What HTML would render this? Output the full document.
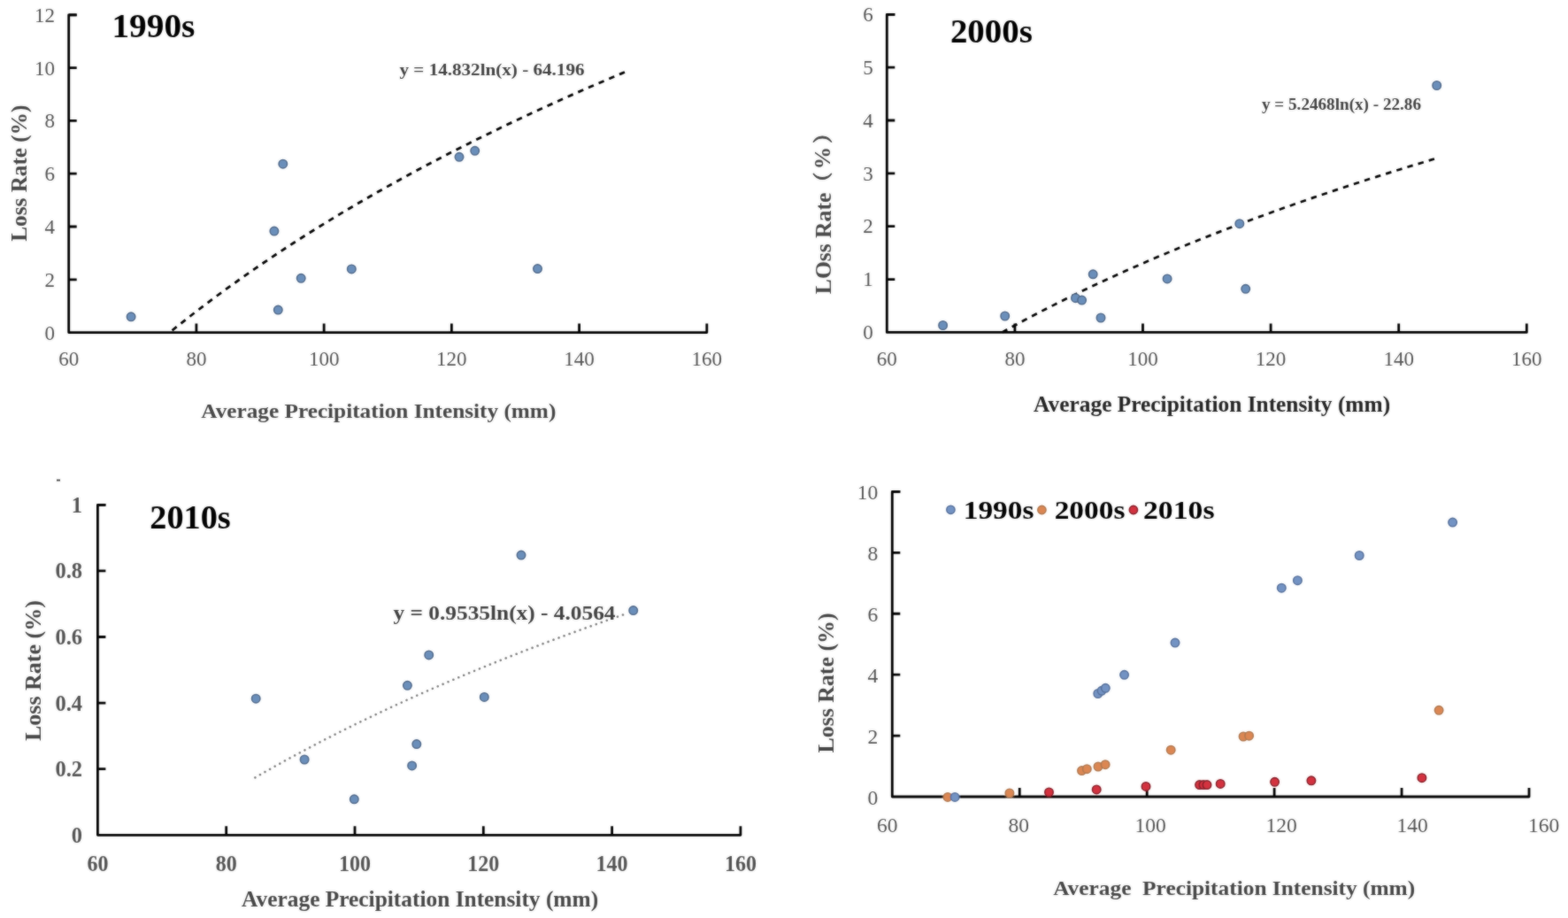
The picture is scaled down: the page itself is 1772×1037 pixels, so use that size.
<!DOCTYPE html><html><head><meta charset="utf-8"><title>Loss rate vs precipitation intensity</title><style>html,body{margin:0;padding:0;background:#fff;}svg{display:block;}text{font-family:"Liberation Serif", "Noto Serif CJK SC", serif;}</style></head><body>
<svg width="1772" height="1037" viewBox="0 0 1772 1037">
<defs><filter id="soft" filterUnits="userSpaceOnUse" x="0" y="0" width="1772" height="1037"><feGaussianBlur in="SourceGraphic" stdDeviation="1" result="bl"/><feComposite in="SourceGraphic" in2="bl" operator="arithmetic" k1="0" k2="0.5" k3="0.5" k4="0"/></filter></defs>
<rect width="1772" height="1037" fill="#fff"/>
<g filter="url(#soft)">
<path d="M86.7,16.8H77.7V375.6H798.8V365.6" fill="none" stroke="#000" stroke-width="2.8" stroke-linejoin="round"/>
<path d="M221.92,375.6V365.6M366.14,375.6V365.6M510.36,375.6V365.6M654.58,375.6V365.6M77.7,315.8H86.7M77.7,256.0H86.7M77.7,196.2H86.7M77.7,136.4H86.7M77.7,76.6H86.7M77.7,16.8H86.7" fill="none" stroke="#000" stroke-width="2.8"/>
<text x="62" y="383.6" font-size="23" fill="#525252" text-anchor="end" >0</text>
<text x="62" y="323.8" font-size="23" fill="#525252" text-anchor="end" >2</text>
<text x="62" y="264.0" font-size="23" fill="#525252" text-anchor="end" >4</text>
<text x="62" y="204.2" font-size="23" fill="#525252" text-anchor="end" >6</text>
<text x="62" y="144.4" font-size="23" fill="#525252" text-anchor="end" >8</text>
<text x="62" y="84.6" font-size="23" fill="#525252" text-anchor="end" >10</text>
<text x="62" y="24.8" font-size="23" fill="#525252" text-anchor="end" >12</text>
<text x="77.7" y="412.6" font-size="23" fill="#525252" text-anchor="middle" >60</text>
<text x="221.92" y="412.6" font-size="23" fill="#525252" text-anchor="middle" >80</text>
<text x="366.14" y="412.6" font-size="23" fill="#525252" text-anchor="middle" >100</text>
<text x="510.36" y="412.6" font-size="23" fill="#525252" text-anchor="middle" >120</text>
<text x="654.58" y="412.6" font-size="23" fill="#525252" text-anchor="middle" >140</text>
<text x="798.8" y="412.6" font-size="23" fill="#525252" text-anchor="middle" >160</text>
<text x="173.4" y="42.3" font-size="38.5" fill="#000" text-anchor="middle" font-weight="bold" textLength="94" lengthAdjust="spacingAndGlyphs" >1990s</text>
<text x="556" y="85" font-size="19.5" fill="#404040" text-anchor="middle" font-weight="bold" textLength="209" lengthAdjust="spacingAndGlyphs" >y = 14.832ln(x) - 64.196</text>
<text transform="translate(30.3,195.7) rotate(-90)" font-size="25" fill="#454545" text-anchor="middle" font-weight="bold" textLength="154" lengthAdjust="spacingAndGlyphs" >Loss Rate (%)</text>
<text x="427.8" y="472" font-size="23" fill="#454545" text-anchor="middle" font-weight="bold" textLength="401" lengthAdjust="spacingAndGlyphs" >Average Precipitation Intensity (mm)</text>
<path d="M194.58,373.27 L203.17,366.39 L211.76,359.61 L220.36,352.94 L228.95,346.36 L237.54,339.89 L246.13,333.50 L254.72,327.21 L263.32,321.00 L271.91,314.88 L280.50,308.84 L289.09,302.89 L297.68,297.01 L306.28,291.21 L314.87,285.48 L323.46,279.83 L332.05,274.25 L340.64,268.74 L349.24,263.29 L357.83,257.92 L366.42,252.60 L375.01,247.35 L383.61,242.16 L392.20,237.03 L400.79,231.96 L409.38,226.95 L417.97,221.99 L426.57,217.09 L435.16,212.24 L443.75,207.44 L452.34,202.70 L460.93,198.00 L469.53,193.36 L478.12,188.76 L486.71,184.21 L495.30,179.70 L503.89,175.24 L512.49,170.83 L521.08,166.46 L529.67,162.13 L538.26,157.84 L546.85,153.60 L555.45,149.39 L564.04,145.23 L572.63,141.10 L581.22,137.01 L589.82,132.96 L598.41,128.95 L607.00,124.97 L615.59,121.02 L624.18,117.11 L632.78,113.24 L641.37,109.40 L649.96,105.59 L658.55,101.82 L667.14,98.07 L675.74,94.36 L684.33,90.68 L692.92,87.03 L701.51,83.40 L710.10,79.81" fill="none" stroke="#000" stroke-width="2.8" stroke-dasharray="6.5 6.2" stroke-linecap="butt"/>
<circle cx="148.1" cy="357.8" r="4.7" fill="#6b8fbb" stroke="#50698a" stroke-width="1.6"/>
<circle cx="319.8" cy="185.2" r="4.7" fill="#6b8fbb" stroke="#50698a" stroke-width="1.6"/>
<circle cx="309.9" cy="261.1" r="4.7" fill="#6b8fbb" stroke="#50698a" stroke-width="1.6"/>
<circle cx="340.2" cy="314.3" r="4.7" fill="#6b8fbb" stroke="#50698a" stroke-width="1.6"/>
<circle cx="397.3" cy="303.9" r="4.7" fill="#6b8fbb" stroke="#50698a" stroke-width="1.6"/>
<circle cx="314.3" cy="350.1" r="4.7" fill="#6b8fbb" stroke="#50698a" stroke-width="1.6"/>
<circle cx="519.0" cy="177.3" r="4.7" fill="#6b8fbb" stroke="#50698a" stroke-width="1.6"/>
<circle cx="536.7" cy="170.3" r="4.7" fill="#6b8fbb" stroke="#50698a" stroke-width="1.6"/>
<circle cx="607.5" cy="303.6" r="4.7" fill="#6b8fbb" stroke="#50698a" stroke-width="1.6"/>
<path d="M1011.3,16.3H1002.3V375.4H1725.3V365.4" fill="none" stroke="#000" stroke-width="2.8" stroke-linejoin="round"/>
<path d="M1146.9,375.4V365.4M1291.5,375.4V365.4M1436.1,375.4V365.4M1580.7,375.4V365.4M1002.3,315.55H1011.3M1002.3,255.7H1011.3M1002.3,195.85H1011.3M1002.3,136H1011.3M1002.3,76.15H1011.3M1002.3,16.3H1011.3" fill="none" stroke="#000" stroke-width="2.8"/>
<text x="986.8" y="383.1" font-size="23" fill="#525252" text-anchor="end" >0</text>
<text x="986.8" y="323.25" font-size="23" fill="#525252" text-anchor="end" >1</text>
<text x="986.8" y="263.4" font-size="23" fill="#525252" text-anchor="end" >2</text>
<text x="986.8" y="203.55" font-size="23" fill="#525252" text-anchor="end" >3</text>
<text x="986.8" y="143.7" font-size="23" fill="#525252" text-anchor="end" >4</text>
<text x="986.8" y="83.85" font-size="23" fill="#525252" text-anchor="end" >5</text>
<text x="986.8" y="24" font-size="23" fill="#525252" text-anchor="end" >6</text>
<text x="1002.3" y="412.8" font-size="23" fill="#525252" text-anchor="middle" >60</text>
<text x="1146.9" y="412.8" font-size="23" fill="#525252" text-anchor="middle" >80</text>
<text x="1291.5" y="412.8" font-size="23" fill="#525252" text-anchor="middle" >100</text>
<text x="1436.1" y="412.8" font-size="23" fill="#525252" text-anchor="middle" >120</text>
<text x="1580.7" y="412.8" font-size="23" fill="#525252" text-anchor="middle" >140</text>
<text x="1725.3" y="412.8" font-size="23" fill="#525252" text-anchor="middle" >160</text>
<text x="1120.4" y="47.6" font-size="38.5" fill="#000" text-anchor="middle" font-weight="bold" textLength="93" lengthAdjust="spacingAndGlyphs" >2000s</text>
<text x="1516" y="123.5" font-size="18.3" fill="#404040" text-anchor="middle" font-weight="bold" textLength="180" lengthAdjust="spacingAndGlyphs" >y = 5.2468ln(x) - 22.86</text>
<text transform="translate(939,332.2) rotate(-90)" font-size="25" fill="#474747" text-anchor="start" font-weight="bold" textLength="114.5" lengthAdjust="spacingAndGlyphs" >LOss Rate</text>
<text transform="translate(936.5,205.8) rotate(-90)" font-size="22" fill="#474747" text-anchor="middle" font-weight="bold" stroke="#474747" stroke-width="0.9">（</text>
<text transform="translate(938,178.6) rotate(-90)" font-size="25.5" fill="#474747" text-anchor="middle" font-weight="bold" >%</text>
<text transform="translate(936.5,150.8) rotate(-90)" font-size="22" fill="#474747" text-anchor="middle" font-weight="bold" stroke="#474747" stroke-width="0.9">）</text>
<text x="1369.6" y="465.4" font-size="24.5" fill="#222" text-anchor="middle" font-weight="bold" textLength="403" lengthAdjust="spacingAndGlyphs" >Average Precipitation Intensity (mm)</text>
<path d="M1132.57,375.40 L1140.74,370.89 L1148.91,366.44 L1157.07,362.05 L1165.24,357.72 L1173.41,353.45 L1181.58,349.24 L1189.75,345.08 L1197.91,340.98 L1206.08,336.93 L1214.25,332.94 L1222.42,328.99 L1230.58,325.09 L1238.75,321.24 L1246.92,317.44 L1255.09,313.68 L1263.25,309.96 L1271.42,306.29 L1279.59,302.67 L1287.76,299.08 L1295.93,295.53 L1304.09,292.03 L1312.26,288.56 L1320.43,285.13 L1328.60,281.74 L1336.76,278.38 L1344.93,275.06 L1353.10,271.78 L1361.27,268.52 L1369.43,265.30 L1377.60,262.12 L1385.77,258.96 L1393.94,255.84 L1402.11,252.75 L1410.27,249.69 L1418.44,246.66 L1426.61,243.65 L1434.78,240.68 L1442.94,237.73 L1451.11,234.81 L1459.28,231.92 L1467.45,229.05 L1475.62,226.21 L1483.78,223.40 L1491.95,220.61 L1500.12,217.84 L1508.29,215.10 L1516.45,212.38 L1524.62,209.69 L1532.79,207.02 L1540.96,204.37 L1549.12,201.74 L1557.29,199.14 L1565.46,196.56 L1573.63,193.99 L1581.80,191.45 L1589.96,188.93 L1598.13,186.43 L1606.30,183.95 L1614.47,181.49 L1622.63,179.04" fill="none" stroke="#000" stroke-width="2.7" stroke-dasharray="6.5 6.2" stroke-linecap="butt"/>
<circle cx="1065.6" cy="367.5" r="4.7" fill="#6b8fbb" stroke="#50698a" stroke-width="1.6"/>
<circle cx="1135.7" cy="357.0" r="4.7" fill="#6b8fbb" stroke="#50698a" stroke-width="1.6"/>
<circle cx="1215.5" cy="336.7" r="4.7" fill="#6b8fbb" stroke="#50698a" stroke-width="1.6"/>
<circle cx="1222.6" cy="339.1" r="4.7" fill="#6b8fbb" stroke="#50698a" stroke-width="1.6"/>
<circle cx="1235.2" cy="309.8" r="4.7" fill="#6b8fbb" stroke="#50698a" stroke-width="1.6"/>
<circle cx="1244.0" cy="359.0" r="4.7" fill="#6b8fbb" stroke="#50698a" stroke-width="1.6"/>
<circle cx="1319.1" cy="314.9" r="4.7" fill="#6b8fbb" stroke="#50698a" stroke-width="1.6"/>
<circle cx="1400.8" cy="252.7" r="4.7" fill="#6b8fbb" stroke="#50698a" stroke-width="1.6"/>
<circle cx="1407.7" cy="326.3" r="4.7" fill="#6b8fbb" stroke="#50698a" stroke-width="1.6"/>
<circle cx="1623.7" cy="96.5" r="4.7" fill="#6b8fbb" stroke="#50698a" stroke-width="1.6"/>
<path d="M119.4,570.3H110.4V943.3H836.9V933.3" fill="none" stroke="#000" stroke-width="2.8" stroke-linejoin="round"/>
<path d="M255.7,943.3V933.3M401.0,943.3V933.3M546.3,943.3V933.3M691.6,943.3V933.3M110.4,868.7H119.4M110.4,794.1H119.4M110.4,719.5H119.4M110.4,644.9H119.4M110.4,570.3H119.4" fill="none" stroke="#000" stroke-width="2.8"/>
<text x="93" y="951.8" font-size="24.5" fill="#525252" text-anchor="end" font-weight="bold" >0</text>
<text x="93" y="877.2" font-size="24.5" fill="#525252" text-anchor="end" font-weight="bold" >0.2</text>
<text x="93" y="802.6" font-size="24.5" fill="#525252" text-anchor="end" font-weight="bold" >0.4</text>
<text x="93" y="728.0" font-size="24.5" fill="#525252" text-anchor="end" font-weight="bold" >0.6</text>
<text x="93" y="653.4" font-size="24.5" fill="#525252" text-anchor="end" font-weight="bold" >0.8</text>
<text x="93" y="578.8" font-size="24.5" fill="#525252" text-anchor="end" font-weight="bold" >1</text>
<text x="110.4" y="984" font-size="25.5" fill="#525252" text-anchor="middle" font-weight="bold" textLength="24" lengthAdjust="spacingAndGlyphs" >60</text>
<text x="255.7" y="984" font-size="25.5" fill="#525252" text-anchor="middle" font-weight="bold" textLength="24" lengthAdjust="spacingAndGlyphs" >80</text>
<text x="401.0" y="984" font-size="25.5" fill="#525252" text-anchor="middle" font-weight="bold" textLength="36" lengthAdjust="spacingAndGlyphs" >100</text>
<text x="546.3" y="984" font-size="25.5" fill="#525252" text-anchor="middle" font-weight="bold" textLength="36" lengthAdjust="spacingAndGlyphs" >120</text>
<text x="691.6" y="984" font-size="25.5" fill="#525252" text-anchor="middle" font-weight="bold" textLength="36" lengthAdjust="spacingAndGlyphs" >140</text>
<text x="836.9" y="984" font-size="25.5" fill="#525252" text-anchor="middle" font-weight="bold" textLength="36" lengthAdjust="spacingAndGlyphs" >160</text>
<text x="215" y="597" font-size="37" fill="#000" text-anchor="middle" font-weight="bold" textLength="91.5" lengthAdjust="spacingAndGlyphs" >2010s</text>
<path d="M288.39,878.38 L295.37,874.36 L302.34,870.39 L309.32,866.46 L316.29,862.58 L323.26,858.73 L330.24,854.93 L337.21,851.17 L344.19,847.44 L351.16,843.76 L358.14,840.11 L365.11,836.50 L372.09,832.93 L379.06,829.39 L386.03,825.89 L393.01,822.42 L399.98,818.98 L406.96,815.58 L413.93,812.21 L420.91,808.87 L427.88,805.56 L434.85,802.28 L441.83,799.04 L448.80,795.82 L455.78,792.63 L462.75,789.47 L469.73,786.34 L476.70,783.23 L483.68,780.15 L490.65,777.10 L497.62,774.07 L504.60,771.07 L511.57,768.10 L518.55,765.15 L525.52,762.22 L532.50,759.32 L539.47,756.44 L546.45,753.58 L553.42,750.75 L560.39,747.94 L567.37,745.15 L574.34,742.38 L581.32,739.63 L588.29,736.91 L595.27,734.20 L602.24,731.52 L609.21,728.86 L616.19,726.21 L623.16,723.59 L630.14,720.98 L637.11,718.40 L644.09,715.83 L651.06,713.28 L658.04,710.75 L665.01,708.24 L671.98,705.74 L678.96,703.26 L685.93,700.80 L692.91,698.36 L699.88,695.93 L706.86,693.52" fill="none" stroke="#7c7c7c" stroke-width="2.6" stroke-dasharray="0.01 6.4" stroke-linecap="round"/>
<text x="570" y="700.4" font-size="23.5" fill="#404040" text-anchor="middle" font-weight="bold" textLength="251" lengthAdjust="spacingAndGlyphs" >y = 0.9535ln(x) - 4.0564</text>
<text transform="translate(45.5,757.6) rotate(-90)" font-size="25" fill="#454545" text-anchor="middle" font-weight="bold" textLength="159" lengthAdjust="spacingAndGlyphs" >Loss Rate (%)</text>
<text x="474.6" y="1024.3" font-size="25.5" fill="#454545" text-anchor="middle" font-weight="bold" textLength="403" lengthAdjust="spacingAndGlyphs" >Average Precipitation Intensity (mm)</text>
<circle cx="289.2" cy="789.2" r="4.7" fill="#6b8fbb" stroke="#50698a" stroke-width="1.6"/>
<circle cx="344.1" cy="858.0" r="4.7" fill="#6b8fbb" stroke="#50698a" stroke-width="1.6"/>
<circle cx="400.3" cy="902.8" r="4.7" fill="#6b8fbb" stroke="#50698a" stroke-width="1.6"/>
<circle cx="460.4" cy="774.3" r="4.7" fill="#6b8fbb" stroke="#50698a" stroke-width="1.6"/>
<circle cx="484.7" cy="739.9" r="4.7" fill="#6b8fbb" stroke="#50698a" stroke-width="1.6"/>
<circle cx="470.8" cy="840.6" r="4.7" fill="#6b8fbb" stroke="#50698a" stroke-width="1.6"/>
<circle cx="465.6" cy="864.9" r="4.7" fill="#6b8fbb" stroke="#50698a" stroke-width="1.6"/>
<circle cx="547.3" cy="787.4" r="4.7" fill="#6b8fbb" stroke="#50698a" stroke-width="1.6"/>
<circle cx="589.0" cy="627.1" r="4.7" fill="#6b8fbb" stroke="#50698a" stroke-width="1.6"/>
<circle cx="715.7" cy="689.6" r="4.7" fill="#6b8fbb" stroke="#50698a" stroke-width="1.6"/>
<path d="M64,542.5h4" stroke="#444" stroke-width="2"/>
<path d="M1017.3,555.4H1008.3V900H1728.0V890" fill="none" stroke="#000" stroke-width="2.8" stroke-linejoin="round"/>
<path d="M1152.24,900V890M1296.18,900V890M1440.12,900V890M1584.06,900V890M1008.3,831.08H1017.3M1008.3,762.16H1017.3M1008.3,693.24H1017.3M1008.3,624.32H1017.3M1008.3,555.4H1017.3" fill="none" stroke="#000" stroke-width="2.8"/>
<text x="992.3" y="908.6" font-size="23.5" fill="#525252" text-anchor="end" >0</text>
<text x="992.3" y="839.68" font-size="23.5" fill="#525252" text-anchor="end" >2</text>
<text x="992.3" y="770.76" font-size="23.5" fill="#525252" text-anchor="end" >4</text>
<text x="992.3" y="701.84" font-size="23.5" fill="#525252" text-anchor="end" >6</text>
<text x="992.3" y="632.92" font-size="23.5" fill="#525252" text-anchor="end" >8</text>
<text x="992.3" y="564.0" font-size="23.5" fill="#525252" text-anchor="end" >10</text>
<text x="1002.7" y="939.8" font-size="23.5" fill="#525252" text-anchor="middle" >60</text>
<text x="1151.3" y="939.8" font-size="23.5" fill="#525252" text-anchor="middle" >80</text>
<text x="1300" y="939.8" font-size="23.5" fill="#525252" text-anchor="middle" >100</text>
<text x="1448" y="939.8" font-size="23.5" fill="#525252" text-anchor="middle" >120</text>
<text x="1596" y="939.8" font-size="23.5" fill="#525252" text-anchor="middle" >140</text>
<text x="1744.6" y="939.8" font-size="23.5" fill="#525252" text-anchor="middle" >160</text>
<text transform="translate(942.3,771.5) rotate(-90)" font-size="25" fill="#454545" text-anchor="middle" font-weight="bold" textLength="158" lengthAdjust="spacingAndGlyphs" >Loss Rate (%)</text>
<text x="1394.7" y="1011" font-size="23.5" fill="#454545" text-anchor="middle" font-weight="bold" textLength="409" lengthAdjust="spacingAndGlyphs" xml:space="preserve">Average  Precipitation Intensity (mm)</text>
<circle cx="1071" cy="900.4" r="4.7" fill="#dc8752" stroke="#b07850" stroke-width="1.6"/>
<circle cx="1140.9" cy="896" r="4.7" fill="#dc8752" stroke="#b07850" stroke-width="1.6"/>
<circle cx="1222.5" cy="870.6" r="4.7" fill="#dc8752" stroke="#b07850" stroke-width="1.6"/>
<circle cx="1228.3" cy="868.7" r="4.7" fill="#dc8752" stroke="#b07850" stroke-width="1.6"/>
<circle cx="1241" cy="866" r="4.7" fill="#dc8752" stroke="#b07850" stroke-width="1.6"/>
<circle cx="1249.1" cy="863.7" r="4.7" fill="#dc8752" stroke="#b07850" stroke-width="1.6"/>
<circle cx="1323.2" cy="847.2" r="4.7" fill="#dc8752" stroke="#b07850" stroke-width="1.6"/>
<circle cx="1405.1" cy="832" r="4.7" fill="#dc8752" stroke="#b07850" stroke-width="1.6"/>
<circle cx="1411.6" cy="831.2" r="4.7" fill="#dc8752" stroke="#b07850" stroke-width="1.6"/>
<circle cx="1626.1" cy="802.3" r="4.7" fill="#dc8752" stroke="#b07850" stroke-width="1.6"/>
<circle cx="1079.1" cy="900.4" r="4.7" fill="#7393c4" stroke="#56709b" stroke-width="1.6"/>
<circle cx="1240.8" cy="783.5" r="4.7" fill="#7393c4" stroke="#56709b" stroke-width="1.6"/>
<circle cx="1245" cy="780.3" r="4.7" fill="#7393c4" stroke="#56709b" stroke-width="1.6"/>
<circle cx="1249.3" cy="777.3" r="4.7" fill="#7393c4" stroke="#56709b" stroke-width="1.6"/>
<circle cx="1270.6" cy="762.3" r="4.7" fill="#7393c4" stroke="#56709b" stroke-width="1.6"/>
<circle cx="1328" cy="726.1" r="4.7" fill="#7393c4" stroke="#56709b" stroke-width="1.6"/>
<circle cx="1448.3" cy="664.2" r="4.7" fill="#7393c4" stroke="#56709b" stroke-width="1.6"/>
<circle cx="1466.4" cy="655.7" r="4.7" fill="#7393c4" stroke="#56709b" stroke-width="1.6"/>
<circle cx="1536.2" cy="627.5" r="4.7" fill="#7393c4" stroke="#56709b" stroke-width="1.6"/>
<circle cx="1641.6" cy="590.1" r="4.7" fill="#7393c4" stroke="#56709b" stroke-width="1.6"/>
<circle cx="1185.5" cy="894.9" r="4.7" fill="#d4323f" stroke="#861f29" stroke-width="1.6"/>
<circle cx="1239.2" cy="891.9" r="4.7" fill="#d4323f" stroke="#861f29" stroke-width="1.6"/>
<circle cx="1295" cy="888.4" r="4.7" fill="#d4323f" stroke="#861f29" stroke-width="1.6"/>
<circle cx="1355.6" cy="886.6" r="4.7" fill="#d4323f" stroke="#861f29" stroke-width="1.6"/>
<circle cx="1360" cy="886.6" r="4.7" fill="#d4323f" stroke="#861f29" stroke-width="1.6"/>
<circle cx="1364" cy="886.6" r="4.7" fill="#d4323f" stroke="#861f29" stroke-width="1.6"/>
<circle cx="1379.2" cy="885.4" r="4.7" fill="#d4323f" stroke="#861f29" stroke-width="1.6"/>
<circle cx="1440.6" cy="883.3" r="4.7" fill="#d4323f" stroke="#861f29" stroke-width="1.6"/>
<circle cx="1481.9" cy="881.8" r="4.7" fill="#d4323f" stroke="#861f29" stroke-width="1.6"/>
<circle cx="1606.9" cy="878.7" r="4.7" fill="#d4323f" stroke="#861f29" stroke-width="1.6"/>
<circle cx="1074.4" cy="575.8" r="4.6" fill="#7393c4" stroke="#56709b" stroke-width="1.6"/>
<circle cx="1177.4" cy="576" r="4.6" fill="#dc8752" stroke="#b07850" stroke-width="1.6"/>
<circle cx="1280.9" cy="576" r="4.6" fill="#d4323f" stroke="#861f29" stroke-width="1.6"/>
<text x="1128.6" y="585.8" font-size="30" fill="#000" text-anchor="middle" font-weight="bold" textLength="79.6" lengthAdjust="spacingAndGlyphs" >1990s</text>
<text x="1231.55" y="585.8" font-size="30" fill="#000" text-anchor="middle" font-weight="bold" textLength="79.7" lengthAdjust="spacingAndGlyphs" >2000s</text>
<text x="1332.25" y="585.8" font-size="30" fill="#000" text-anchor="middle" font-weight="bold" textLength="80.5" lengthAdjust="spacingAndGlyphs" >2010s</text>
</g></svg></body></html>
